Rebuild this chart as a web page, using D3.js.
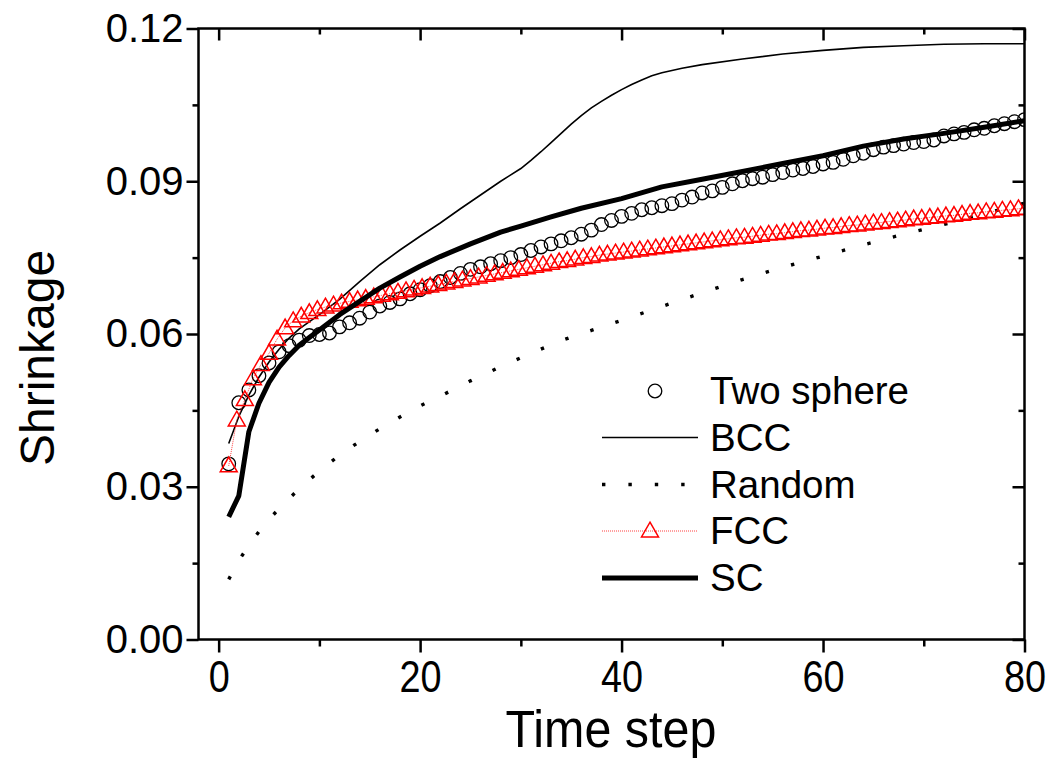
<!DOCTYPE html>
<html>
<head>
<meta charset="utf-8">
<script src="https://cdn.jsdelivr.net/npm/d3@7"></script>
<style>
  html, body { margin: 0; padding: 0; background: #fff; }
  svg { display: block; font-family: "Liberation Sans", Arial, sans-serif; }
</style>
</head>
<body>
<svg id="chart" width="1051" height="760"></svg>
<script>
// ---------- data ----------
const twoSphereX = [1,2,3,4,5,6,7,8,9,10,11,12,13,14,15,16,17,18,19,20,21,22,23,24,25,26,27,28,29,30,31,32,33,34,35,36,37,38,39,40,41,42,43,44,45,46,47,48,49,50,51,52,53,54,55,56,57,58,59,60,61,62,63,64,65,66,67,68,69,70,71,72,73,74,75,76,77,78,79,80];
const twoSphereY = [0.0345,0.0465,0.0490,0.0518,0.0543,0.0565,0.0577,0.0588,0.0597,0.0599,0.0602,0.0614,0.0622,0.0631,0.0643,0.0655,0.0662,0.0669,0.0679,0.0687,0.0695,0.0703,0.0711,0.0719,0.0727,0.0732,0.0738,0.0744,0.0750,0.0756,0.0764,0.0771,0.0777,0.0783,0.0789,0.0796,0.0804,0.0815,0.0823,0.0831,0.0837,0.0844,0.0848,0.0852,0.0856,0.0863,0.0869,0.0877,0.0881,0.0888,0.0895,0.0901,0.0905,0.0908,0.0913,0.0917,0.0922,0.0925,0.0929,0.0934,0.0937,0.0943,0.0950,0.0955,0.0962,0.0967,0.0970,0.0973,0.0976,0.0978,0.0981,0.0989,0.0993,0.0996,0.1001,0.1004,0.1009,0.1013,0.1017,0.1021];

const bccX = [1,2,3,4,5,6,7,8,10,12,14,16,18,20,22,24,26,28,30,31,32,33,34,35,36,37,38,39,40,41,42,43,44,46,48,52,56,60,64,68,72,76,80];
const bccY = [0.0385,0.0438,0.0480,0.0515,0.0545,0.0570,0.0592,0.0610,0.0638,0.0668,0.0703,0.0736,0.0765,0.0792,0.0818,0.0846,0.0873,0.0900,0.0925,0.0941,0.0958,0.0976,0.0994,0.1012,0.1029,0.1044,0.1057,0.1069,0.1080,0.1090,0.1099,0.1107,0.1113,0.1122,0.1129,0.1140,0.1150,0.1157,0.1163,0.1166,0.1169,0.1170,0.1170];

const randomX = [1,2,3,4,5,6,7,8,10,12,14,16,18,20,22,25,28,31,34,37,40,44,48,52,56,60,64,68,72,76,80];
const randomY = [0.0118,0.0155,0.0185,0.0212,0.0236,0.0257,0.0277,0.0296,0.0331,0.0362,0.0389,0.0414,0.0437,0.0459,0.0478,0.0508,0.0536,0.0562,0.0587,0.0607,0.0627,0.0654,0.0681,0.0707,0.0731,0.0753,0.0775,0.0796,0.0815,0.0836,0.0857];

const fccX = [1.0,1.8,2.6,3.4,4.2,5.0,5.8,6.6,7.4,8.2,9.0,9.8,10.6,11.4,12.2,13.0,13.8,14.6,15.4,16.2,17.0,17.8,18.6,19.4,20.2,21.0,21.8,22.6,23.4,24.2,25.0,25.8,26.6,27.4,28.2,29.0,29.8,30.6,31.4,32.2,33.0,33.8,34.6,35.4,36.2,37.0,37.8,38.6,39.4,40.2,41.0,41.8,42.6,43.4,44.2,45.0,45.8,46.6,47.4,48.2,49.0,49.8,50.6,51.4,52.2,53.0,53.8,54.6,55.4,56.2,57.0,57.8,58.6,59.4,60.2,61.0,61.8,62.6,63.4,64.2,65.0,65.8,66.6,67.4,68.2,69.0,69.8,70.6,71.4,72.2,73.0,73.8,74.6,75.4,76.2,77.0,77.8,78.6,79.4,80.2];
const fccY = [0.0341,0.0431,0.0471,0.0512,0.0540,0.0562,0.0590,0.0612,0.0626,0.0635,0.0642,0.0648,0.0653,0.0657,0.0661,0.0664,0.0667,0.0670,0.0673,0.0676,0.0679,0.0682,0.0685,0.0688,0.0691,0.0694,0.0697,0.0700,0.0703,0.0706,0.0709,0.0712,0.0715,0.0718,0.0721,0.0724,0.0727,0.0730,0.0733,0.0736,0.0739,0.0742,0.0744,0.0747,0.0750,0.0752,0.0755,0.0757,0.0759,0.0761,0.0763,0.0765,0.0767,0.0769,0.0771,0.0773,0.0775,0.0777,0.0779,0.0781,0.0783,0.0785,0.0787,0.0789,0.0790,0.0792,0.0794,0.0796,0.0797,0.0799,0.0801,0.0803,0.0804,0.0806,0.0808,0.0809,0.0811,0.0813,0.0814,0.0816,0.0818,0.0819,0.0821,0.0822,0.0824,0.0826,0.0827,0.0829,0.0830,0.0832,0.0833,0.0835,0.0837,0.0838,0.0840,0.0841,0.0843,0.0844,0.0846,0.0847];

const scX = [1,2,3,4,5,6,7,8,9,10,12,14,16,18,20,22,25,28,30,33,36,40,44,48,52,56,60,64,68,72,76,80];
const scY = [0.0241,0.0282,0.0408,0.0464,0.0505,0.0535,0.0558,0.0578,0.0593,0.0608,0.0638,0.0664,0.0690,0.0712,0.0733,0.0752,0.0777,0.0800,0.0812,0.0830,0.0847,0.0866,0.0889,0.0904,0.0919,0.0935,0.0950,0.0969,0.0983,0.0994,0.1006,0.1019];

const xTicks = [0, 20, 40, 60, 80];
const xMinorTicks = [10, 30, 50, 70];
const yTicks = [0.00, 0.03, 0.06, 0.09, 0.12];
const yMinorTicks = [0.015, 0.045, 0.075, 0.105];
const legendLabels = ["Two sphere", "BCC", "Random", "FCC", "SC"];
const xTitle = "Time step";
const yTitle = "Shrinkage";

// ---------- layout ----------
const svg = d3.select("#chart");
const L = 198.5, R = 1024.5, T = 28.5, B = 639.5;
const x = d3.scaleLinear().domain([-2, 80]).range([L, R]);
const y = d3.scaleLinear().domain([0, 0.12]).range([B, T]);

const zip = (xs, ys) => xs.map((v, i) => [v, ys[i]]);
const line = d3.line().x(d => x(d[0])).y(d => y(d[1]));

svg.append("defs").append("clipPath").attr("id", "plotClip")
  .append("rect").attr("x", L).attr("y", T).attr("width", R - L).attr("height", B - T);

const plot = svg.append("g").attr("clip-path", "url(#plotClip)");

// Two sphere: open circles
plot.append("g").selectAll("circle").data(zip(twoSphereX, twoSphereY)).join("circle")
  .attr("cx", d => x(d[0])).attr("cy", d => y(d[1])).attr("r", 6.8)
  .attr("fill", "none").attr("stroke", "#000").attr("stroke-width", 1.3);

// BCC thin line
plot.append("path").datum(zip(bccX, bccY)).attr("d", line)
  .attr("fill", "none").attr("stroke", "#000").attr("stroke-width", 1.6);

// Random dotted line
plot.append("path").datum(zip(randomX, randomY)).attr("d", line)
  .attr("fill", "none").attr("stroke", "#000").attr("stroke-width", 3.4)
  .attr("stroke-dasharray", "3.4,23");

// FCC red dotted thin line + open triangles
plot.append("path").datum(zip(fccX, fccY)).attr("d", line)
  .attr("fill", "none").attr("stroke", "#ff4040").attr("stroke-width", 1)
  .attr("stroke-dasharray", "1,1");
const tri = d3.symbol().type(d3.symbolTriangle).size(125);
plot.append("g").selectAll("path").data(zip(fccX, fccY)).join("path")
  .attr("d", tri)
  .attr("transform", d => `translate(${x(d[0])},${y(d[1]) + 1})`)
  .attr("fill", "none").attr("stroke", "#ff0000").attr("stroke-width", 1.5);

// SC thick line
plot.append("path").datum(zip(scX, scY)).attr("d", line)
  .attr("fill", "none").attr("stroke", "#000").attr("stroke-width", 5)
  .attr("stroke-linejoin", "round");

// ---------- axes ----------
function styleAxis(g) {
  g.select(".domain").remove();
  g.selectAll(".tick line").attr("stroke", "#000").attr("stroke-width", 2.5);
}
// bottom (outward)
const gxb = svg.append("g").attr("transform", `translate(0,${B})`)
  .call(d3.axisBottom(x).tickValues(xTicks).tickSize(13).tickPadding(8).tickFormat(d3.format("d")));
styleAxis(gxb);
gxb.selectAll(".tick text").attr("font-size", 44).attr("fill", "#000")
  .attr("font-family", "'Liberation Sans', Arial, sans-serif")
  .style("transform", "scaleX(0.86)").style("transform-box", "fill-box").style("transform-origin", "center");
svg.append("g").attr("transform", `translate(0,${B})`)
  .call(d3.axisBottom(x).tickValues(xMinorTicks).tickSize(7).tickFormat(""))
  .call(styleAxis);
// top (inward)
svg.append("g").attr("transform", `translate(0,${T})`)
  .call(d3.axisBottom(x).tickValues(xTicks).tickSize(12).tickFormat(""))
  .call(styleAxis);
svg.append("g").attr("transform", `translate(0,${T})`)
  .call(d3.axisBottom(x).tickValues(xMinorTicks).tickSize(6).tickFormat(""))
  .call(styleAxis);
// left (outward)
const gyl = svg.append("g").attr("transform", `translate(${L},0)`)
  .call(d3.axisLeft(y).tickValues(yTicks).tickSize(12).tickPadding(3).tickFormat(d3.format(".2f")));
styleAxis(gyl);
gyl.selectAll(".tick text").attr("font-size", 40).attr("fill", "#000")
  .attr("font-family", "'Liberation Sans', Arial, sans-serif");
svg.append("g").attr("transform", `translate(${L},0)`)
  .call(d3.axisLeft(y).tickValues(yMinorTicks).tickSize(6).tickFormat(""))
  .call(styleAxis);
// right (inward)
svg.append("g").attr("transform", `translate(${R},0)`)
  .call(d3.axisLeft(y).tickValues(yTicks).tickSize(12).tickFormat(""))
  .call(styleAxis);
svg.append("g").attr("transform", `translate(${R},0)`)
  .call(d3.axisLeft(y).tickValues(yMinorTicks).tickSize(6).tickFormat(""))
  .call(styleAxis);

// frame
svg.append("rect").attr("x", L).attr("y", T).attr("width", R - L).attr("height", B - T)
  .attr("fill", "none").attr("stroke", "#000").attr("stroke-width", 2.5);

// titles
svg.append("text").attr("x", 611).attr("y", 747)
  .attr("text-anchor", "middle").attr("font-size", 51).attr("fill", "#000")
  .style("transform", "scaleX(0.95)").style("transform-box", "fill-box").style("transform-origin", "center")
  .text(xTitle);
svg.append("text").attr("transform", `translate(54,${(T + B) / 2 + 24}) rotate(-90)`)
  .attr("text-anchor", "middle").attr("font-size", 48).attr("fill", "#000")
  .text(yTitle);

// ---------- legend ----------
const lg = svg.append("g");
const rowY = [391, 437.5, 484.5, 531, 578];
const sx0 = 602, sx1 = 698, tx = 710;
legendLabels.forEach((lab, i) => {
  lg.append("text").attr("x", tx).attr("y", rowY[i] + 13).attr("font-size", 38.5).attr("fill", "#000").text(lab);
});
lg.append("circle").attr("cx", 655).attr("cy", rowY[0]).attr("r", 6.8)
  .attr("fill", "none").attr("stroke", "#000").attr("stroke-width", 1.3);
lg.append("line").attr("x1", sx0).attr("x2", sx1).attr("y1", rowY[1]).attr("y2", rowY[1])
  .attr("stroke", "#000").attr("stroke-width", 1.6);
lg.append("line").attr("x1", sx0).attr("x2", sx1).attr("y1", rowY[2]).attr("y2", rowY[2])
  .attr("stroke", "#000").attr("stroke-width", 3.4).attr("stroke-dasharray", "3.4,23");
lg.append("line").attr("x1", sx0).attr("x2", sx1).attr("y1", rowY[3]).attr("y2", rowY[3])
  .attr("stroke", "#ff4040").attr("stroke-width", 1).attr("stroke-dasharray", "1,1");
lg.append("path").attr("d", tri).attr("transform", `translate(650,${rowY[3] + 1})`)
  .attr("fill", "none").attr("stroke", "#ff0000").attr("stroke-width", 1.5);
lg.append("line").attr("x1", sx0).attr("x2", sx1).attr("y1", rowY[4]).attr("y2", rowY[4])
  .attr("stroke", "#000").attr("stroke-width", 5);
</script>
</body>
</html>
